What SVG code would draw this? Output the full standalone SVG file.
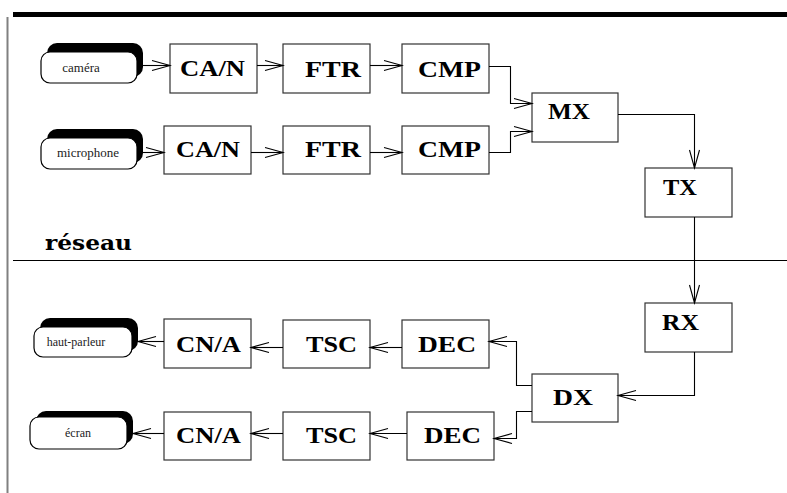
<svg xmlns="http://www.w3.org/2000/svg" width="787" height="493" viewBox="0 0 787 493">
<style>
.box{fill:#fff;stroke:#333;stroke-width:1.2}
.lbl{font-family:"Liberation Serif","Times New Roman",serif;font-weight:bold;font-size:24px;fill:#000}
.pill{fill:#fff;stroke:#000;stroke-width:1.2}
.shadow{fill:#000}
.ptxt{font-family:"Liberation Serif","Times New Roman",serif;fill:#222;text-anchor:middle}
.wire{fill:none;stroke:#000;stroke-width:1.1;marker-end:url(#arr)}
</style>
<defs>
<marker id="arr" viewBox="-20 -7 22 14" refX="0" refY="0" markerWidth="22" markerHeight="14" markerUnits="userSpaceOnUse" orient="auto">
<path d="M-18,-5 L0,0 L-18,5" fill="none" stroke="#000" stroke-width="1.1"/>
</marker>
</defs>
<rect x="0" y="0" width="787" height="493" fill="#fff"/>
<rect x="13" y="12" width="774" height="5" fill="#000"/>
<line x1="7.5" y1="17" x2="7.5" y2="493" stroke="#808080" stroke-width="2"/>
<line x1="13" y1="260.5" x2="787" y2="260.5" stroke="#000" stroke-width="1.2"/>
<text x="45" y="250" font-family="DejaVu Serif, serif" font-weight="bold" font-size="20" textLength="87" lengthAdjust="spacingAndGlyphs">réseau</text>

<g id="camera"><rect class="shadow" x="47" y="43" width="96" height="34" rx="10"/><rect class="pill" x="41" y="52" width="96" height="31" rx="9"/><text class="ptxt" x="81" y="72" font-size="13">caméra</text></g>
<g id="microphone"><rect class="shadow" x="47" y="129" width="96" height="34" rx="10"/><rect class="pill" x="41" y="138" width="96" height="31" rx="9"/><text class="ptxt" x="88" y="157" font-size="13">microphone</text></g>
<g id="haut-parleur"><rect class="shadow" x="40" y="318" width="98" height="33" rx="10"/><rect class="pill" x="34" y="327" width="98" height="30" rx="9"/><text class="ptxt" x="76" y="346" font-size="12">haut-parleur</text></g>
<g id="ecran"><rect class="shadow" x="36" y="411" width="97" height="33" rx="10"/><rect class="pill" x="30" y="417" width="97" height="32" rx="9"/><text class="ptxt" x="78" y="437" font-size="12">écran</text></g>

<g id="can1"><rect class="box" x="170" y="44" width="87" height="49"/><text class="lbl" x="180" y="76" textLength="65" lengthAdjust="spacingAndGlyphs">CA/N</text></g>
<g id="ftr1"><rect class="box" x="283" y="44" width="87" height="49"/><text class="lbl" x="305" y="77" textLength="56" lengthAdjust="spacingAndGlyphs">FTR</text></g>
<g id="cmp1"><rect class="box" x="402" y="44" width="87" height="49"/><text class="lbl" x="418" y="77" textLength="63" lengthAdjust="spacingAndGlyphs">CMP</text></g>
<g id="can2"><rect class="box" x="164" y="126" width="87" height="48"/><text class="lbl" x="176" y="157" textLength="64" lengthAdjust="spacingAndGlyphs">CA/N</text></g>
<g id="ftr2"><rect class="box" x="283" y="126" width="87" height="48"/><text class="lbl" x="305" y="157" textLength="56" lengthAdjust="spacingAndGlyphs">FTR</text></g>
<g id="cmp2"><rect class="box" x="402" y="126" width="87" height="48"/><text class="lbl" x="418" y="157" textLength="63" lengthAdjust="spacingAndGlyphs">CMP</text></g>
<g id="mx"><rect class="box" x="532" y="93" width="86" height="49"/><text class="lbl" x="548" y="119" textLength="42" lengthAdjust="spacingAndGlyphs">MX</text></g>
<g id="tx"><rect class="box" x="645" y="168" width="87" height="49"/><text class="lbl" x="663" y="195" textLength="34" lengthAdjust="spacingAndGlyphs">TX</text></g>
<g id="rx"><rect class="box" x="645" y="303" width="87" height="49"/><text class="lbl" x="662" y="330" textLength="37" lengthAdjust="spacingAndGlyphs">RX</text></g>
<g id="dx"><rect class="box" x="532" y="374" width="86" height="48"/><text class="lbl" x="553" y="405" textLength="40" lengthAdjust="spacingAndGlyphs">DX</text></g>
<g id="dec1"><rect class="box" x="402" y="320" width="87" height="48"/><text class="lbl" x="418" y="352" textLength="58" lengthAdjust="spacingAndGlyphs">DEC</text></g>
<g id="dec2"><rect class="box" x="407" y="412" width="87" height="48"/><text class="lbl" x="424" y="443" textLength="57" lengthAdjust="spacingAndGlyphs">DEC</text></g>
<g id="tsc1"><rect class="box" x="283" y="320" width="87" height="48"/><text class="lbl" x="306" y="352" textLength="51" lengthAdjust="spacingAndGlyphs">TSC</text></g>
<g id="tsc2"><rect class="box" x="283" y="412" width="87" height="48"/><text class="lbl" x="306" y="443" textLength="51" lengthAdjust="spacingAndGlyphs">TSC</text></g>
<g id="cna1"><rect class="box" x="164" y="319" width="87" height="49"/><text class="lbl" x="176" y="352" textLength="65" lengthAdjust="spacingAndGlyphs">CN/A</text></g>
<g id="cna2"><rect class="box" x="164" y="412" width="87" height="48"/><text class="lbl" x="176" y="443" textLength="65" lengthAdjust="spacingAndGlyphs">CN/A</text></g>

<g id="connectors">
<path class="wire" d="M143,65.5 H170"/>
<path class="wire" d="M143,152.5 H164"/>
<path class="wire" d="M257,65.5 H283"/>
<path class="wire" d="M251,152.5 H283"/>
<path class="wire" d="M370,65.5 H402"/>
<path class="wire" d="M370,152.5 H402"/>
<path class="wire" d="M489,66.5 H510.5 V103.5 H532"/>
<path class="wire" d="M489,152.5 H510.5 V131.5 H532"/>
<path class="wire" d="M618,114.5 H694.5 V168"/>
<path class="wire" d="M694.5,217 V303"/>
<path class="wire" d="M694.5,352 V395.5 H618"/>
<path class="wire" d="M532,385.5 H516.5 V341.5 H489"/>
<path class="wire" d="M532,411.5 H516.5 V438.5 H494"/>
<path class="wire" d="M402,347.5 H370"/>
<path class="wire" d="M407,433.5 H370"/>
<path class="wire" d="M283,347.5 H251"/>
<path class="wire" d="M283,433.5 H251"/>
<path class="wire" d="M164,341.5 H138"/>
<path class="wire" d="M164,433.5 H133"/>
</g>
</svg>
